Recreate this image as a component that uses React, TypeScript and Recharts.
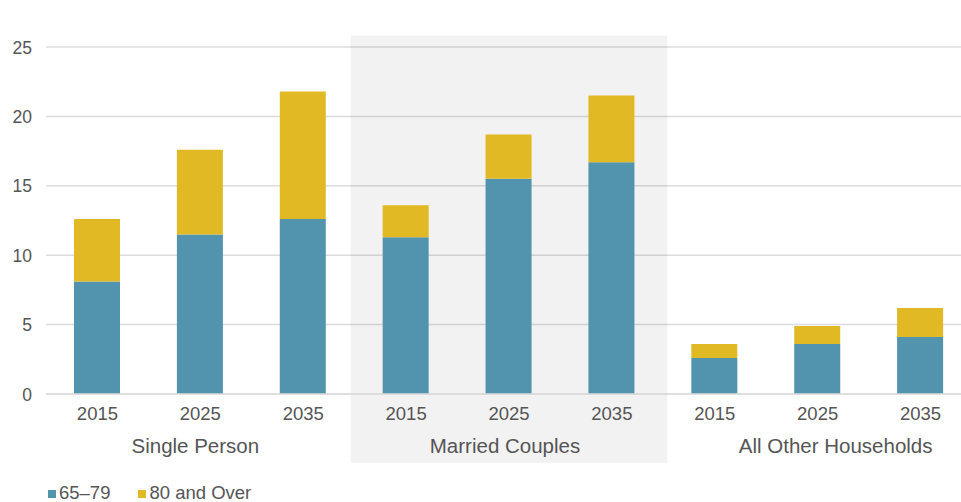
import React from 'react';
import { BarChart, Bar, XAxis, YAxis, CartesianGrid, ReferenceArea, Legend } from 'recharts';

const groups = ['Single Person', 'Married Couples', 'All Other Households'];
const years = ['2015', '2025', '2035'];
const age65to79 = [8.1, 11.5, 12.6, 11.3, 15.5, 16.7, 2.6, 3.6, 4.1];
const age80plus = [4.5, 6.1, 9.2, 2.3, 3.2, 4.8, 1.0, 1.3, 2.1];
const yTicks = [0, 5, 10, 15, 20, 25];
const seriesNames = ['65–79', '80 and Over'];

const BLUE = '#5293ad';
const GOLD = '#e0b924';
const TEXT = '#555555';
const FONT = '"Liberation Sans", Arial, sans-serif';

const data = groups.flatMap((g, gi) =>
  years.map((y, yi) => ({
    id: `${g}|${y}`,
    group: g,
    year: y,
    a: age65to79[gi * 3 + yi],
    b: age80plus[gi * 3 + yi],
  }))
);

const groupDx = [-5, -4, 18];

const YearTick = (props: any) => {
  const { x, y, payload } = props;
  const year = String(payload.value).split('|')[1];
  return (
    <text x={x} y={y + 26} textAnchor="middle" fill={TEXT} fontSize={18.5} fontFamily={FONT}>
      {year}
    </text>
  );
};

const GroupTick = (props: any) => {
  const { x, y, payload, index } = props;
  return (
    <text x={x + (groupDx[index] || 0)} y={y + 28.7} textAnchor="middle" fill={TEXT} fontSize={20.5} fontFamily={FONT}>
      {payload.value}
    </text>
  );
};

const YTick = (props: any) => {
  const { x, y, payload } = props;
  return (
    <text x={x} y={y + 6.5} textAnchor="end" fill={TEXT} fontSize={17.5} fontFamily={FONT}>
      {payload.value}
    </text>
  );
};

const LegendContent = () => (
  <div style={{ display: 'flex', fontFamily: FONT, fontSize: 18.5, color: TEXT, lineHeight: '20px' }}>
    {[BLUE, GOLD].map((c, i) => (
      <div key={i} style={{ display: 'flex', alignItems: 'center', marginRight: i === 0 ? 28 : 0 }}>
        <span style={{ display: 'inline-block', width: 8, height: 8, background: c, marginRight: 3, marginTop: 2 }} />
        <span>{seriesNames[i]}</span>
      </div>
    ))}
  </div>
);

const Shade = (p: any) => (
  <rect x={p.x - 4} y={p.y} width={p.width + 8} height={p.height} fill="#000000" fillOpacity={0.05} />
);

export default function App() {
  return (
    <div style={{ position: 'absolute', left: 0, top: 0, width: 961, height: 502, overflow: 'hidden', background: '#fff' }}>
      <BarChart
        width={976}
        height={502}
        data={data}
        margin={{ top: 47, right: 4, bottom: 8, left: 0 }}
        barSize={46}
      >
        <CartesianGrid vertical={false} stroke="#dcdcdc" strokeWidth={1.5} />
        <ReferenceArea
          x1="Married Couples|2015"
          x2="Married Couples|2035"
          y1={-4.95}
          y2={25.83}
          ifOverflow="visible"
          shape={Shade}
        />
        <XAxis
          dataKey="id"
          tick={YearTick}
          tickLine={false}
          axisLine={{ stroke: '#dcdcdc', strokeWidth: 1.5 }}
          tickSize={0}
          tickMargin={0}
          height={30}
          interval={0}
        />
        <XAxis
          xAxisId="group"
          dataKey="group"
          allowDuplicatedCategory={false}
          tick={GroupTick}
          tickLine={false}
          axisLine={false}
          tickSize={0}
          tickMargin={0}
          height={40}
          interval={0}
        />
        <YAxis
          domain={[0, 25]}
          ticks={yTicks}
          tick={YTick}
          tickLine={false}
          axisLine={false}
          tickSize={0}
          tickMargin={14}
          width={46}
        />
        <Legend
          verticalAlign="bottom"
          align="left"
          height={30}
          content={LegendContent}
          wrapperStyle={{ left: 48, bottom: -11, height: 30 }}
        />
        <Bar dataKey="a" name={seriesNames[0]} stackId="s" fill={BLUE} isAnimationActive={false} />
        <Bar dataKey="b" name={seriesNames[1]} stackId="s" fill={GOLD} isAnimationActive={false} />
      </BarChart>
    </div>
  );
}
